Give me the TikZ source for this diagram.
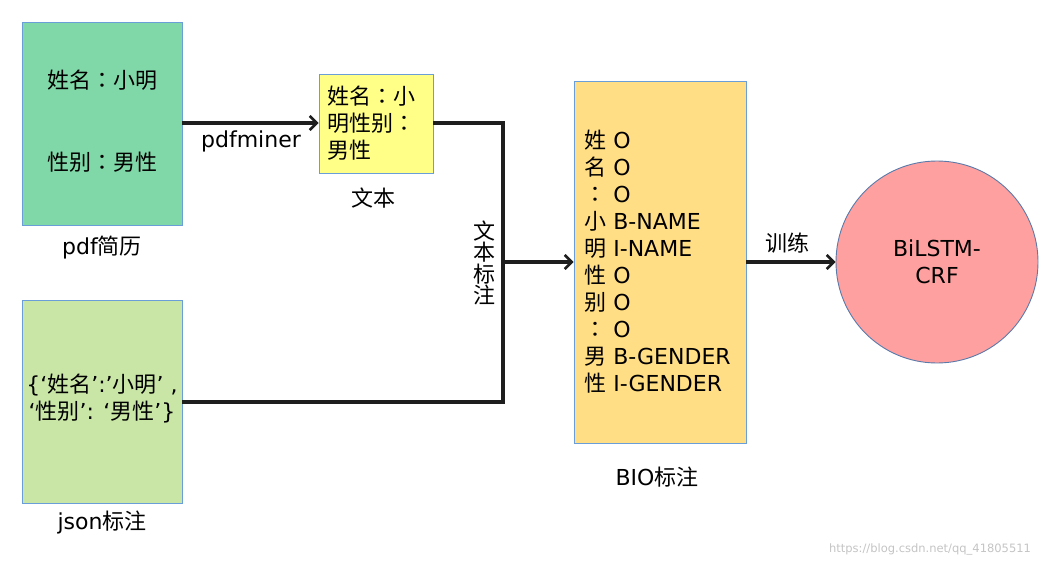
\documentclass[tikz,border=0pt]{standalone}
\usepackage{fontspec}
\setmainfont{DejaVu Sans}
\newfontfamily\cjk{Noto Sans CJK SC}
\newfontfamily\cjkp{Noto Sans CJK TC}
\usetikzlibrary{arrows.meta}
\newcommand{\zh}[1]{{\cjk #1}}
\newcommand{\cc}{{\cjkp ：}}
\definecolor{pdfgreen}{HTML}{80D8A8}
\definecolor{jsongreen}{HTML}{C9E6A6}
\definecolor{txtyellow}{HTML}{FFFF88}
\definecolor{bioyellow}{HTML}{FFDE85}
\definecolor{netred}{HTML}{FFA0A0}
\definecolor{edgeblue}{HTML}{6A9ED8}
\definecolor{circblue}{HTML}{5A7AAA}
\definecolor{wmgray}{HTML}{C4C4C4}
\definecolor{linegray}{HTML}{1E1E1E}
\begin{document}
\begin{tikzpicture}[x=1pt,y=-1pt,
  every node/.style={font=\fontsize{22}{27}\selectfont, inner sep=0pt},
  panel/.style={draw=edgeblue, line width=0.9pt, rectangle},
  lbl/.style={anchor=center},
  conn/.style={draw=linegray, line width=3.2pt},
  arr/.style={conn, -{Straight Barb[length=7pt,width=14pt,line width=2.6pt]}}
]
\useasboundingbox (0,0) rectangle (1059,567);

% pdf resume box
\node[panel, fill=pdfgreen, minimum width=160pt, minimum height=203pt] (pdf) at (102,123.5) {};
\node[lbl] (pdfa) at (102,80) {\zh{姓名}\cc\zh{小明}};
\node[lbl] (pdfb) at (102,162) {\zh{性别}\cc\zh{男性}};
\node[lbl] (pdflbl) at (102,248) {pdf\zh{简历}};

% text box
\node[panel, fill=txtyellow, minimum width=114pt, minimum height=99pt, text width=98pt, align=left] (txt) at (376,123.5) {\zh{姓名}\cc\zh{小}\\\zh{明性别}\cc\\\zh{男性}};
\node[lbl] (txtlbl) at (373,198) {\zh{文本}};

% json box
\node[panel, fill=jsongreen, minimum width=160pt, minimum height=203pt] (json) at (102,401.5) {};
\node[lbl, align=center] (jsontxt) at (102,399) {\{‘\zh{姓名}’:’\zh{小明}’ ,\\ ‘\zh{性别}’: ‘\zh{男性}’\}};
\node[lbl] (jsonlbl) at (102,522) {json\zh{标注}};

% BIO box
\node[panel, fill=bioyellow, minimum width=172pt, minimum height=362pt, text width=152pt, align=left] (bio) at (660,262) {%
\zh{姓} O\\\zh{名} O\\\cc{} O\\\zh{小} B-NAME\\\zh{明} I-NAME\\\zh{性} O\\\zh{别} O\\\cc{} O\\\zh{男} B-GENDER\\\zh{性} I-GENDER};
\node[lbl] (biolbl) at (657,477) {BIO\zh{标注}};

% model circle
\node[circle, draw=circblue, line width=0.9pt, fill=netred, minimum size=202pt, align=center] (net) at (937,262) {BiLSTM-\\CRF};

% connectors
\coordinate (join) at (503,262);
\draw[arr] (pdf.east |- 0,123) -- (txt.west |- 0,123);
\node[lbl] (pdfminer) at (251,141) {pdfminer};
\draw[conn] (txt.east |- 0,123) -| (join);
\draw[conn] (json.east |- 0,402) -| (join);
\draw[arr] (join) -- (bio.west);
\node[lbl, align=center, font=\fontsize{22}{21.5}\selectfont\cjk] (vlbl) at (484,263) {文\\本\\标\\注};
\draw[arr] (bio.east) -- (net.west);
\node[lbl] (train) at (787,243) {\zh{训练}};

% watermark
\node[lbl, text=wmgray, font=\fontsize{11.5}{12}\selectfont] (wm) at (930,549) {https://blog.csdn.net/qq\_41805511};
\end{tikzpicture}
\end{document}
